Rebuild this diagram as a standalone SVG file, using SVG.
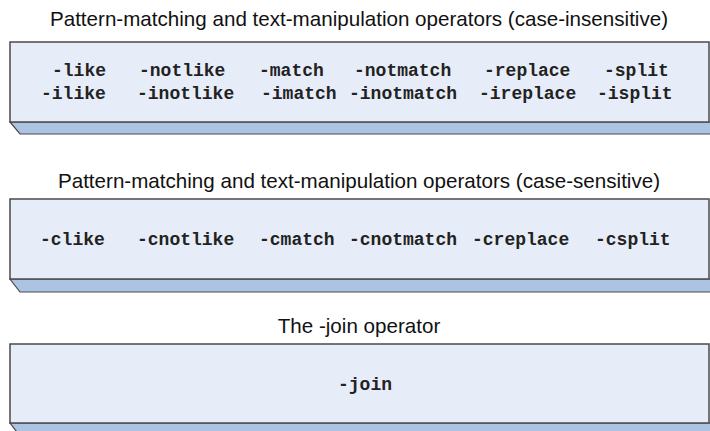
<svg xmlns="http://www.w3.org/2000/svg" width="710" height="431" viewBox="0 0 710 431">
<style>
.title{font-family:"Liberation Sans",Arial,sans-serif;font-size:20.6px;fill:#111;text-anchor:middle}
.op{font-family:"Liberation Mono","Courier New",monospace;font-size:18px;font-weight:bold;fill:#222}
.face{fill:#e7edf8;stroke:#4a4a4a;stroke-width:1.5}
.slab{fill:#adc3e4;stroke:#4a4a4a;stroke-width:1.2}
</style>
<rect width="710" height="431" fill="#fff"/>
<g id="box1">
<text class="title" x="359" y="26">Pattern-matching and text-manipulation operators (case-insensitive)</text>
<polygon class="slab" points="10,122 711,122 711,134 20,134"/>
<rect class="face" x="10" y="42" width="699" height="80"/>
<text class="op" y="76"><tspan x="52">-like</tspan><tspan x="139">-notlike</tspan><tspan x="259">-match</tspan><tspan x="354">-notmatch</tspan><tspan x="484">-replace</tspan><tspan x="604">-split</tspan></text>
<text class="op" y="99"><tspan x="41">-ilike</tspan><tspan x="137">-inotlike</tspan><tspan x="261">-imatch</tspan><tspan x="349">-inotmatch</tspan><tspan x="479">-ireplace</tspan><tspan x="597">-isplit</tspan></text>
</g>
<g id="box2">
<text class="title" x="359" y="188">Pattern-matching and text-manipulation operators (case-sensitive)</text>
<polygon class="slab" points="10,279 711,279 711,292 20,292"/>
<rect class="face" x="10" y="199" width="699" height="80"/>
<text class="op" y="245"><tspan x="40">-clike</tspan><tspan x="137">-cnotlike</tspan><tspan x="259">-cmatch</tspan><tspan x="349">-cnotmatch</tspan><tspan x="472">-creplace</tspan><tspan x="595">-csplit</tspan></text>
</g>
<g id="box3">
<text class="title" x="359" y="333">The -join operator</text>
<polygon class="slab" points="10,423 711,423 711,436 20,436"/>
<rect class="face" x="10" y="344" width="699" height="79"/>
<text class="op" x="338" y="390">-join</text>
</g>
<g id="connectors"/>
</svg>
